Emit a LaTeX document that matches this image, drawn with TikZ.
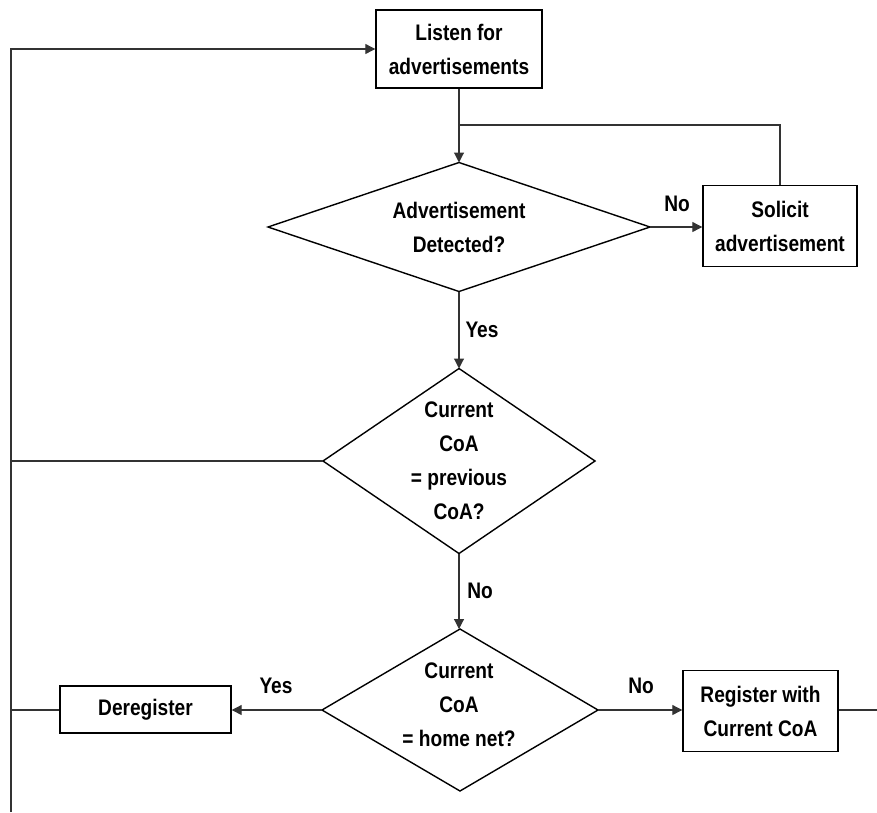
\documentclass[tikz,border=0pt]{standalone}
\usepackage{fontspec}
\setmainfont{Liberation Sans}[FakeStretch=0.85]
\usetikzlibrary{shapes.geometric,arrows.meta}
\begin{document}
\begin{tikzpicture}[x=1pt,y=-1pt,
  font=\bfseries\fontsize{22.5}{34}\selectfont,
  procbox/.style={draw=black,line width=1.4pt,rectangle,inner sep=0pt,align=center},
  decision/.style={draw=black,line width=1.4pt,diamond,inner sep=0pt,outer sep=0pt},
  dtext/.style={inner sep=0pt,align=center},
  conn/.style={draw=black!80,line width=1.1pt},
  arr/.style={conn,-{Triangle[length=10pt,width=10pt]}},
  lbl/.style={inner sep=0pt}]
\useasboundingbox (0,0) rectangle (877,812);
\node[procbox,minimum width=166pt,minimum height=78pt] (listen) at (459,49) {Listen for\\advertisements};
\node[decision,minimum width=382pt,minimum height=129pt] (d1) at (459,227) {};
\node[dtext] (d1t) at (d1.center) {Advertisement\\Detected?};
\node[procbox,minimum width=154pt,minimum height=81pt] (solicit) at (780,226) {Solicit\\advertisement};
\node[decision,minimum width=272pt,minimum height=185pt] (d2) at (459,461) {};
\node[dtext] (d2t) at (d2.center) {Current\\CoA\\= previous\\CoA?};
\node[decision,minimum width=276pt,minimum height=162pt] (d3) at (460,710) {};
\node[dtext] (d3t) at (459,705) {Current\\CoA\\= home net?};
\node[procbox,minimum width=171pt,minimum height=47pt] (dereg) at (145.5,709.5) {Deregister};
\node[procbox,minimum width=155pt,minimum height=81pt] (reg) at (760.5,711) {Register with\\Current CoA};
\coordinate (lbot) at (11,812);
\coordinate (join) at (459,125);
\coordinate (l2) at (11,461);
\coordinate (l3) at (11,710);
\coordinate (rend) at (877,710);
\node[lbl] (no1) at (677,204) {No};
\node[lbl] (yes1) at (482,330) {Yes};
\node[lbl] (no2) at (480,591) {No};
\node[lbl] (yes2) at (276,686) {Yes};
\node[lbl] (no3) at (641,686) {No};
\draw[arr] (lbot) |- (listen.west);
\draw[arr] (listen.south) -- (d1.north);
\draw[conn] (solicit.north) |- (join);
\draw[arr] (d1.east) -- (d1.east -| solicit.west);
\draw[arr] (d1.south) -- (d2.north);
\draw[conn] (d2.west) -- (l2);
\draw[arr] (d2.south) -- (d2.south |- d3.north);
\draw[arr] (d3.west) -- (d3.west -| dereg.east);
\draw[arr] (d3.east) -- (d3.east -| reg.west);
\draw[conn] (dereg.west |- l3) -- (l3);
\draw[conn] (d3.east -| reg.east) -- (rend);
\end{tikzpicture}
\end{document}
